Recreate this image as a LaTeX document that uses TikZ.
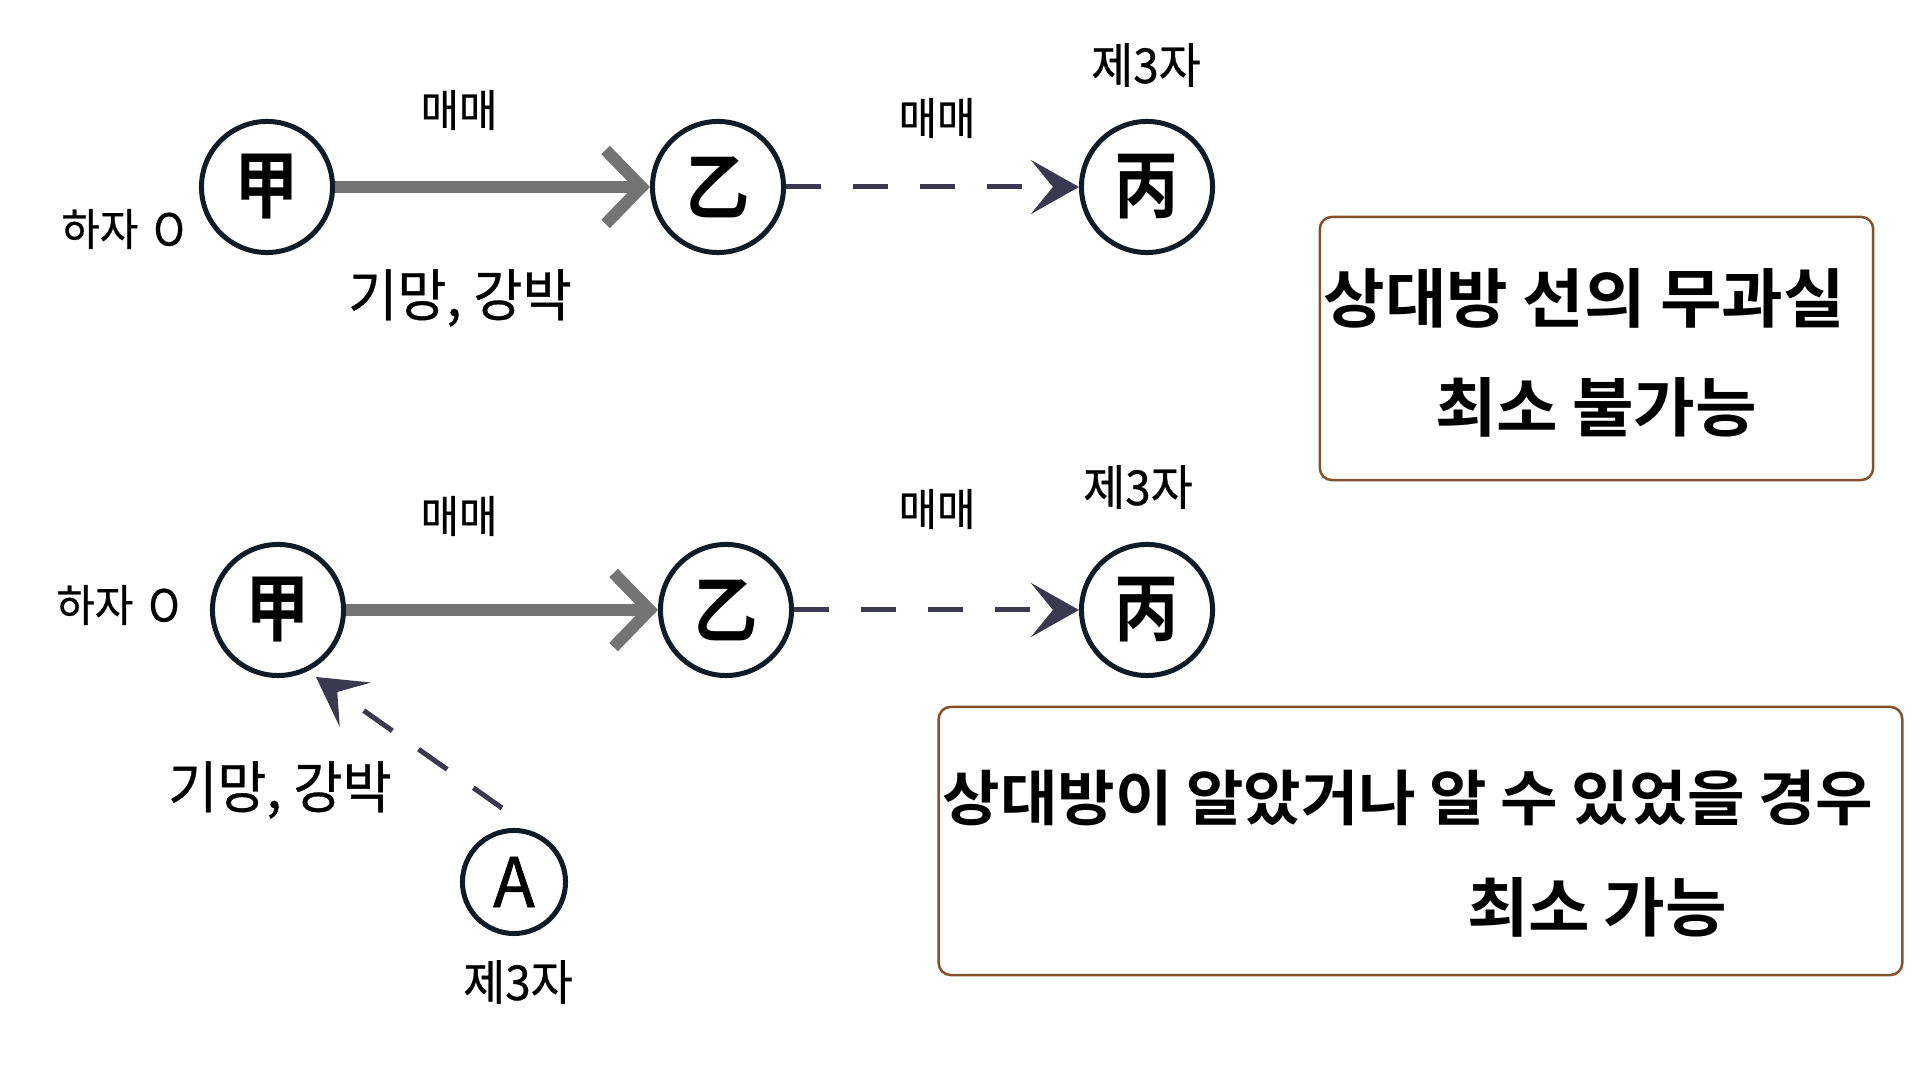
\documentclass[tikz,border=0pt]{standalone}
\usepackage{fontspec}
\newfontfamily\krl[FakeStretch=0.95, FakeBold=0.6]{Noto Sans CJK KR}
\newfontfamily\kro[FakeStretch=1.0, FakeBold=1.0]{Noto Sans CJK KR}
\newfontfamily\krc[FakeStretch=0.87]{Noto Sans CJK KR Bold}
\newfontfamily\krb[FakeStretch=1.04, WordSpace=0.5]{Noto Sans CJK KR Bold}
\newfontfamily\krbw[FakeStretch=1.04, WordSpace=0.95]{Noto Sans CJK KR Bold}
\usetikzlibrary{arrows.meta}
\definecolor{circcol}{HTML}{0F1C26}
\definecolor{grayline}{HTML}{747474}
\definecolor{dashcol}{HTML}{3B3950}
\definecolor{boxcol}{HTML}{84522A}
\begin{document}
\begin{tikzpicture}[x=0.01cm,y=-0.01cm,
  circ/.style={circle, draw=circcol, line width=0.05cm, minimum size=1.31cm, inner sep=0pt, font=\krc\fontsize{21}{23}\selectfont},
  smallcirc/.style={circ, minimum size=1.03cm, font=\kro\fontsize{19.5}{21}\selectfont},
  lbl/.style={inner sep=0pt, font=\krl\fontsize{12.5}{14}\selectfont},
  lblmid/.style={inner sep=0pt, font=\krl\fontsize{13.7}{15}\selectfont},
  lblbig/.style={inner sep=0pt, font=\krl\fontsize{16}{18}\selectfont},
  boxtxt/.style={inner sep=0pt, font=\krb\fontsize{18.3}{20}\selectfont},
  boxtxtw/.style={inner sep=0pt, font=\krbw\fontsize{18.3}{20}\selectfont},
  boxtxts/.style={inner sep=0pt, font=\krb\fontsize{17.1}{19}\selectfont},
  frame/.style={draw=boxcol, line width=0.025cm, rounded corners=0.12cm, inner sep=0pt},
  grayarrow/.style={draw=grayline, line width=0.12cm, -{Straight Barb[length=0.36cm, width=0.74cm]}},
  dasharrow/.style={draw=dashcol, line width=0.05cm, dash pattern=on 0.35cm off 0.32cm, -{Stealth[length=0.48cm, width=0.54cm, inset=0.22cm]}}
]
\useasboundingbox (0,0) rectangle (1920,1080);
\fill[white] (0,0) rectangle (1920,1080);

% top row
\node[circ] (T1) at (267,187) {甲};
\node[circ] (T2) at (718,187) {乙};
\node[circ] (T3) at (1147,187) {丙};
\draw[grayarrow] (T1) -- (T2);
\draw[dasharrow] (T2) -- (T3);
\node[lbl] (tl1) at (459,110) {매매};
\node[lbl] (tl2) at (937,118) {매매};
\node[lblmid] (tl3) at (1146,65) {제3자};
\node[lbl] (tl4) at (123,229) {하자 \kern0.06cm O};
\node[lblbig] (tl5) at (460,298) {기망, 강박};

% top box
\node[frame, minimum width=5.53cm, minimum height=2.63cm] (box1) at (1596.5,348.5) {};
\node[boxtxtw, anchor=west] (b1a) at (1323,298) {상대방 선의 무과실};
\node[boxtxt] (b1b) at (1596,407) {최소 불가능};

% bottom row
\node[circ] (B1) at (278,610) {甲};
\node[circ] (B2) at (726,610) {乙};
\node[circ] (B3) at (1147,610) {丙};
\draw[grayarrow] (B1) -- (B2);
\draw[dasharrow] (B2) -- (B3);
\node[lbl] (bl1) at (459,516) {매매};
\node[lbl] (bl2) at (937,509) {매매};
\node[lblmid] (bl3) at (1138,487) {제3자};
\node[lbl] (bl4) at (118,605) {하자 \kern0.06cm O};
\node[lblbig] (bl5) at (280,790) {기망, 강박};

\node[smallcirc] (A) at (514,882) {A};
\node[lblmid] (al) at (518,982) {제3자};
\coordinate (As) at (502,808);
\coordinate (Bt) at (316,677);
\draw[dasharrow] (As) -- (Bt);

% bottom box
\node[frame, minimum width=9.63cm, minimum height=2.68cm] (box2) at (1420.5,841) {};
\node[boxtxts, anchor=west] (b2a) at (942,798) {상대방이 알았거나 알 수 있었을 경우};
\node[boxtxt] (b2b) at (1597,907) {최소 가능};
\end{tikzpicture}
\end{document}
